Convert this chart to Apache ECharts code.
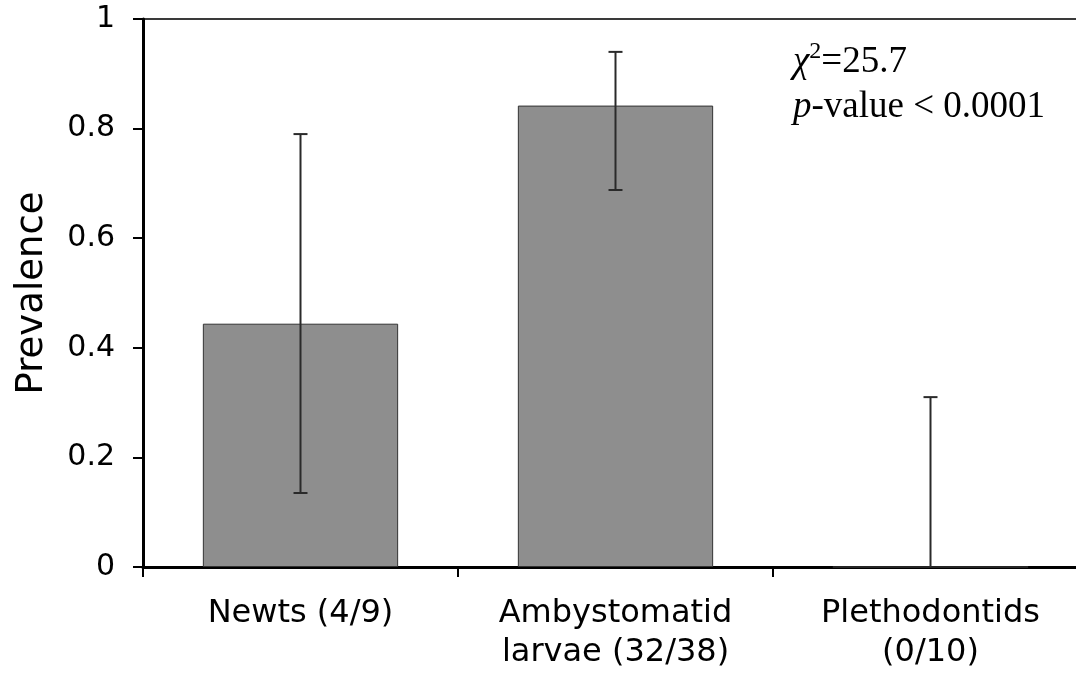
<!DOCTYPE html>
<html>
<head>
<meta charset="utf-8">
<script src="https://cdn.jsdelivr.net/npm/echarts@6/dist/echarts.min.js"></script>
<style>
html,body{margin:0;padding:0;background:#fff;}
#chart{width:1076px;height:673px;}
</style>
</head>
<body>
<div id="chart"></div>
<script>
const categories = ['Newts (4/9)', 'Ambystomatid\nlarvae (32/38)', 'Plethodontids\n(0/10)'];
const prevalence = [0.444, 0.842, 0];
const ciLower = [0.135, 0.688, 0];
const ciUpper = [0.79, 0.94, 0.31];
const yTicks = { min: 0, max: 1, interval: 0.2 };

const chart = echarts.init(document.getElementById('chart'), null, { renderer: 'canvas' });

const errorData = categories.map((c, i) => [i, ciLower[i], ciUpper[i]]);

chart.setOption({
  animation: false,
  backgroundColor: '#fff',
  grid: {
    left: 143, width: 945, top: 19, height: 548,
    outerBoundsMode: 'none',
    containLabel: false,
    show: true, borderColor: '#3a3a3a', borderWidth: 2, backgroundColor: 'transparent'
  },
  xAxis: {
    type: 'category',
    data: categories,
    axisLine: { lineStyle: { color: '#000', width: 3 } },
    axisTick: { show: true, length: 10, lineStyle: { color: '#000', width: 2 } },
    axisLabel: {
      color: '#000', fontFamily: 'DejaVu Sans', fontSize: 32, lineHeight: 39, margin: 27,
      interval: 0
    }
  },
  yAxis: {
    type: 'value',
    min: yTicks.min, max: yTicks.max, interval: yTicks.interval,
    name: 'Prevalence',
    nameLocation: 'middle',
    nameGap: 92,
    nameTextStyle: { color: '#000', fontFamily: 'DejaVu Sans', fontSize: 37 },
    axisLine: { show: true, lineStyle: { color: '#000', width: 3 } },
    axisTick: { show: true, length: 10, lineStyle: { color: '#000', width: 2 } },
    splitLine: { show: false },
    axisLabel: {
      color: '#000', fontFamily: 'DejaVu Sans', fontSize: 30, margin: 28,
      formatter: v => String(Math.round(v * 10) / 10)
    }
  },
  series: [
    {
      type: 'bar',
      data: prevalence,
      barCategoryGap: '38%',
      itemStyle: { color: '#8e8e8e', borderColor: '#333', borderWidth: 1 }
    },
    {
      type: 'custom',
      data: errorData,
      z: 5,
      renderItem: function (params, api) {
        const x = api.value(0);
        const lo = api.coord([x, api.value(1)]);
        const hi = api.coord([x, api.value(2)]);
        const hw = 7;
        const style = { stroke: '#2a2a2a', lineWidth: 2 };
        const children = [
          { type: 'line', shape: { x1: lo[0], y1: lo[1], x2: hi[0], y2: hi[1] }, style: style },
          { type: 'line', shape: { x1: hi[0] - hw, y1: hi[1], x2: hi[0] + hw, y2: hi[1] }, style: style }
        ];
        if (api.value(1) > 0) {
          children.push({ type: 'line', shape: { x1: lo[0] - hw, y1: lo[1], x2: lo[0] + hw, y2: lo[1] }, style: style });
        }
        return { type: 'group', children: children };
      }
    }
  ],
  graphic: [
    {
      type: 'text', left: 793, top: 40, z: 10,
      style: {
        text: '{chi|χ}{sup|2}{n|=25.7}\n{i|p}{n|-value < 0.0001}',
        fill: '#000',
        rich: {
          chi: { fontFamily: 'Liberation Serif', fontStyle: 'italic', fontSize: 37, lineHeight: 45, fill: '#000' },
          sup: { fontFamily: 'Liberation Serif', fontSize: 24, lineHeight: 45, verticalAlign: 'top', fill: '#000' },
          n: { fontFamily: 'Liberation Serif', fontSize: 37, lineHeight: 45, fill: '#000' },
          i: { fontFamily: 'Liberation Serif', fontStyle: 'italic', fontSize: 37, lineHeight: 45, fill: '#000' }
        }
      }
    }
  ]
});
</script>
</body>
</html>
